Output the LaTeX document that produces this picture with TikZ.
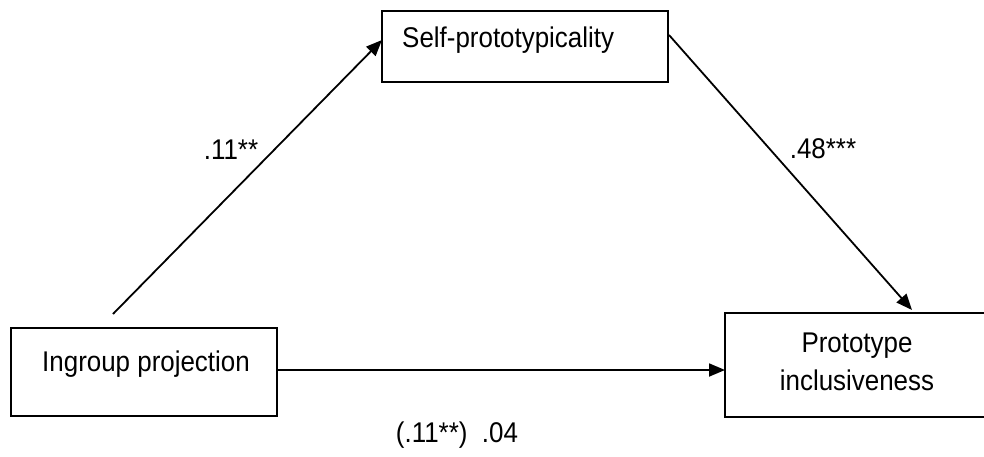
\documentclass[tikz,border=0pt]{standalone}
\usepackage{fontspec}
\setmainfont{Liberation Sans}[FakeStretch=0.91]
\usetikzlibrary{arrows.meta}
\begin{document}
\begin{tikzpicture}[x=1pt,y=-1pt,
  box/.style={draw,line width=1.8pt,inner sep=0pt,outer sep=0pt},
  lab/.style={inner sep=0pt,font=\fontsize{28.5}{38}\selectfont},
  arr/.style={line width=1.8pt,-{Triangle[length=16pt,width=13pt]}}]
\useasboundingbox (0,0) rectangle (984,457);
% boxes
\node[box,minimum width=286pt,minimum height=71pt] (spb) at (525,46.5) {};
\node[box,minimum width=266pt,minimum height=88pt] (ipb) at (144,372) {};
\node[box,minimum width=265pt,minimum height=104pt] (pib) at (857.5,365) {};
% texts
\node[lab,anchor=base west] (spt) at (402,48) {Self-prototypicality};
\node[lab,anchor=base west] (ipt) at (42,371) {Ingroup projection};
\node[lab,align=center] (pit) at (857,362) {Prototype\\inclusiveness};
% coefficients
\node[lab] (l1) at (231,150) {.11**};
\node[lab] (l2) at (823,149) {.48***};
\node[lab] (l3) at (457,435) {(.11**)\ \ .04};
% connectors
\coordinate (a1s) at (113,314);
\coordinate (a1e) at (382,40);
\coordinate (a2s) at (669,35);
\coordinate (a2e) at (912,310);
\draw[arr] (a1s) -- (a1e);
\draw[arr] (a2s) -- (a2e);
\draw[arr] ([yshift=2pt]ipb.east) -- ([yshift=2pt]ipb.east -| pib.west);
\end{tikzpicture}
\end{document}
